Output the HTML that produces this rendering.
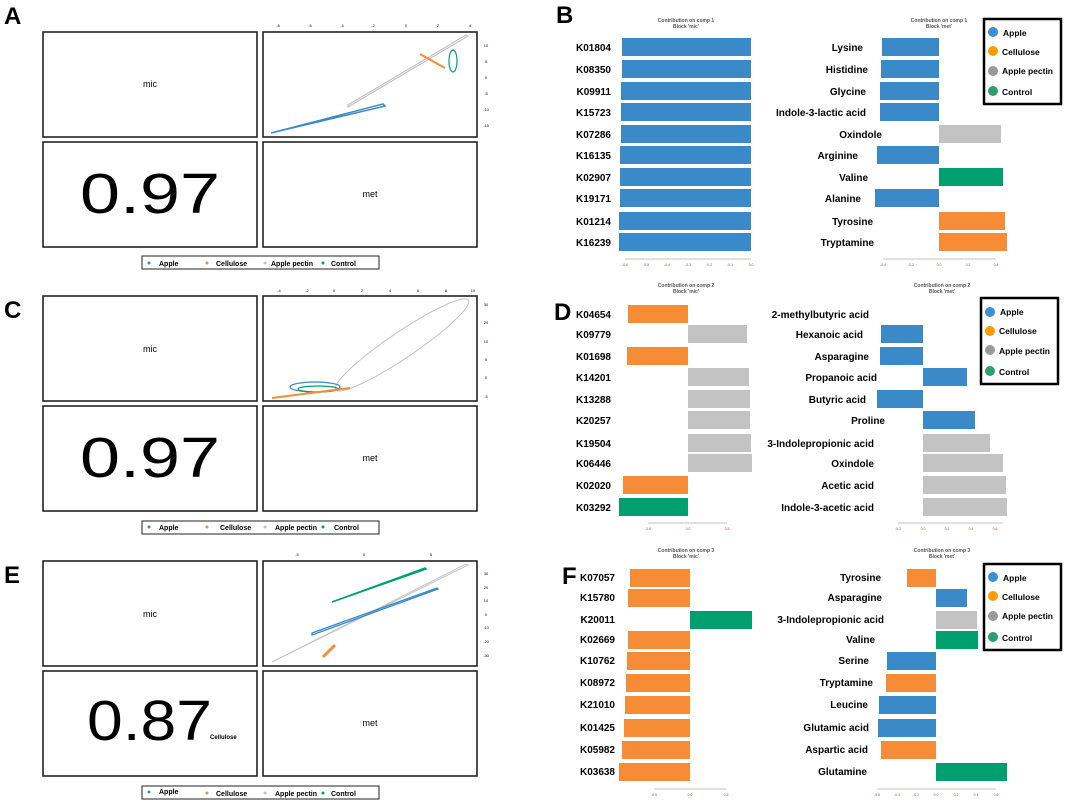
<!DOCTYPE html>
<html><head><meta charset="utf-8"><style>
html,body{margin:0;padding:0;background:#fff}
svg{display:block;font-family:"Liberation Sans",Arial,sans-serif}
.pl{font-weight:bold;font-size:24px}
.bl{font-weight:bold;font-size:10px;text-anchor:end}
.tt{font-size:5px;fill:#555;text-anchor:middle;font-weight:bold}
.ax{font-size:3.5px;fill:#a0522d;text-anchor:middle}
.lg{font-weight:bold;font-size:8.5px}
.sl{font-weight:bold;font-size:7px}
.tk{font-size:4px;text-anchor:middle}
.box{fill:none;stroke:#222;stroke-width:1.6}
</style></head><body>
<svg width="1080" height="801" viewBox="0 0 1080 801">
<g id="A">
<text x="4" y="24" class="pl">A</text>
<rect x="43" y="32" width="214" height="105" class="box"/>
<rect x="263" y="32" width="214" height="105" class="box"/>
<rect x="43" y="142" width="214" height="105" class="box"/>
<rect x="263" y="142" width="214" height="105" class="box"/>
<text x="150" y="87" font-size="9" text-anchor="middle">mic</text>
<text x="370" y="197" font-size="9" text-anchor="middle">met</text>
<text x="80" y="213" font-size="57" textLength="140" lengthAdjust="spacingAndGlyphs">0.97</text>
<g class="tk"><text x="278" y="27">-8</text><text x="310" y="27">-6</text><text x="342" y="27">-4</text><text x="373" y="27">-2</text><text x="406" y="27">0</text><text x="438" y="27">2</text><text x="470" y="27">4</text>
<text x="486" y="47">10</text><text x="486" y="63">5</text><text x="486" y="79">0</text><text x="486" y="95">-5</text><text x="486" y="111">-10</text><text x="486" y="127">-15</text></g>
<path d="M271,133 L385,106 L383,104 Z" fill="none" stroke="#3a89c9" stroke-width="1.5"/>
<path d="M348,107 L468,36 L466,35 L348,105Z" fill="none" stroke="#c3c3c3" stroke-width="1.2"/>
<line x1="420" y1="54" x2="445" y2="68" stroke="#f68d36" stroke-width="2"/>
<ellipse cx="453" cy="61" rx="4" ry="11" fill="none" stroke="#00a06e" stroke-width="1.2"/>
<rect x="142" y="256" width="237" height="13" fill="none" stroke="#222" stroke-width="1"/>
<g class="sl"><circle cx="149" cy="263" r="1.5" fill="#3a89c9"/><text x="159" y="266">Apple</text>
<circle cx="207" cy="263" r="1.5" fill="#f68d36"/><text x="216" y="266">Cellulose</text>
<circle cx="265" cy="263" r="1.5" fill="#c3c3c3"/><text x="271" y="266">Apple pectin</text>
<circle cx="323" cy="263" r="1.5" fill="#00a06e"/><text x="331" y="266">Control</text></g>
</g>

<g id="C">
<text x="4" y="318" class="pl">C</text>
<rect x="43" y="296" width="214" height="105" class="box"/>
<rect x="263" y="296" width="214" height="105" class="box"/>
<rect x="43" y="406" width="214" height="105" class="box"/>
<rect x="263" y="406" width="214" height="105" class="box"/>
<text x="150" y="352" font-size="9" text-anchor="middle">mic</text>
<text x="370" y="461" font-size="9" text-anchor="middle">met</text>
<text x="80" y="477" font-size="57" textLength="140" lengthAdjust="spacingAndGlyphs">0.97</text>
<g class="tk"><text x="279" y="292">-4</text><text x="307" y="292">-2</text><text x="334" y="292">0</text><text x="362" y="292">2</text><text x="390" y="292">4</text><text x="418" y="292">6</text><text x="446" y="292">8</text><text x="473" y="292">10</text>
<text x="486" y="306">30</text><text x="486" y="324">20</text><text x="486" y="343">10</text><text x="486" y="361">5</text><text x="486" y="379">0</text><text x="486" y="398">-5</text></g>
<ellipse cx="402" cy="345" rx="80" ry="13" transform="rotate(-34 402 345)" fill="none" stroke="#c3c3c3" stroke-width="1"/>
<ellipse cx="315" cy="387" rx="25" ry="5" fill="none" stroke="#3a89c9" stroke-width="1.2"/>
<ellipse cx="318" cy="389" rx="20" ry="3" fill="none" stroke="#00a06e" stroke-width="1.2"/>
<line x1="272" y1="398" x2="350" y2="388" stroke="#f68d36" stroke-width="2"/>
<rect x="142" y="521" width="237" height="13" fill="none" stroke="#222" stroke-width="1"/>
<g class="sl"><circle cx="149" cy="527" r="1.5" fill="#3a89c9"/><text x="159" y="530">Apple</text>
<circle cx="207" cy="527" r="1.5" fill="#f68d36"/><text x="220" y="530">Cellulose</text>
<circle cx="265" cy="527" r="1.5" fill="#c3c3c3"/><text x="275" y="530">Apple pectin</text>
<circle cx="323" cy="527" r="1.5" fill="#00a06e"/><text x="334" y="530">Control</text></g>
</g>

<g id="E">
<text x="4" y="583" class="pl">E</text>
<rect x="43" y="561" width="214" height="105" class="box"/>
<rect x="263" y="561" width="214" height="105" class="box"/>
<rect x="43" y="671" width="214" height="105" class="box"/>
<rect x="263" y="671" width="214" height="105" class="box"/>
<text x="150" y="617" font-size="9" text-anchor="middle">mic</text>
<text x="370" y="726" font-size="9" text-anchor="middle">met</text>
<text x="87" y="740" font-size="57" textLength="125" lengthAdjust="spacingAndGlyphs">0.87</text>
<text x="210" y="739" font-size="6" font-weight="bold">Cellulose</text>
<g class="tk"><text x="297" y="556">-5</text><text x="364" y="556">0</text><text x="431" y="556">5</text>
<text x="486" y="575">30</text><text x="486" y="589">20</text><text x="486" y="602">10</text><text x="486" y="616">0</text><text x="486" y="629">-10</text><text x="486" y="643">-20</text><text x="486" y="657">-30</text></g>
<path d="M332,602 L426,569 L425,568 Z" fill="none" stroke="#00a06e" stroke-width="1.5"/>
<path d="M272,662 L468,565 L466,564 Z" fill="none" stroke="#c3c3c3" stroke-width="1"/>
<path d="M312,635 L438,589 L437,588 L312,633 Z" fill="none" stroke="#3a89c9" stroke-width="1.3"/>
<line x1="323" y1="657" x2="335" y2="645" stroke="#f68d36" stroke-width="3"/>
<rect x="142" y="786" width="237" height="13" fill="none" stroke="#222" stroke-width="1"/>
<g class="sl"><circle cx="149" cy="792" r="1.5" fill="#3a89c9"/><text x="159" y="794">Apple</text>
<circle cx="207" cy="793" r="1.5" fill="#f68d36"/><text x="216" y="796">Cellulose</text>
<circle cx="265" cy="793" r="1.5" fill="#c3c3c3"/><text x="275" y="796">Apple pectin</text>
<circle cx="323" cy="793" r="1.5" fill="#00a06e"/><text x="331" y="796">Control</text></g>
</g>

<g id="B">
<text x="556" y="23" class="pl">B</text>
<text x="686" y="22" class="tt">Contribution on comp 1</text><text x="686" y="28" class="tt">Block 'mic'</text>
<text x="939" y="22" class="tt">Contribution on comp 1</text><text x="939" y="28" class="tt">Block 'met'</text>
<g fill="#3a89c9">
<rect x="622" y="38" width="129" height="18"/><rect x="622" y="60" width="129" height="18"/><rect x="621" y="82" width="130" height="18"/><rect x="621" y="103" width="130" height="18"/><rect x="621" y="125" width="130" height="18"/><rect x="620" y="146" width="131" height="18"/><rect x="620" y="168" width="131" height="18"/><rect x="620" y="189" width="131" height="18"/><rect x="619" y="212" width="132" height="18"/><rect x="619" y="233" width="132" height="18"/>
</g>
<g class="bl"><text x="611" y="51">K01804</text><text x="611" y="73">K08350</text><text x="611" y="95">K09911</text><text x="611" y="116">K15723</text><text x="611" y="138">K07286</text><text x="611" y="159">K16135</text><text x="611" y="181">K02907</text><text x="611" y="202">K19171</text><text x="611" y="225">K01214</text><text x="611" y="246">K16239</text></g>
<line x1="625" y1="259" x2="751" y2="259" stroke="#888" stroke-width="0.6"/>
<g class="ax"><text x="625" y="266">-0.6</text><text x="646" y="266">-0.5</text><text x="667" y="266">-0.4</text><text x="688" y="266">-0.3</text><text x="709" y="266">-0.2</text><text x="730" y="266">-0.1</text><text x="751" y="266">0.0</text></g>
<rect x="882" y="38" width="57" height="18" fill="#3a89c9"/>
<rect x="881" y="60" width="58" height="18" fill="#3a89c9"/>
<rect x="880" y="82" width="59" height="18" fill="#3a89c9"/>
<rect x="880" y="103" width="59" height="18" fill="#3a89c9"/>
<rect x="939" y="125" width="62" height="18" fill="#c3c3c3"/>
<rect x="877" y="146" width="62" height="18" fill="#3a89c9"/>
<rect x="939" y="168" width="64" height="18" fill="#00a06e"/>
<rect x="875" y="189" width="64" height="18" fill="#3a89c9"/>
<rect x="939" y="212" width="66" height="18" fill="#f68d36"/>
<rect x="939" y="233" width="68" height="18" fill="#f68d36"/>
<g class="bl"><text x="863" y="51">Lysine</text><text x="868" y="73">Histidine</text><text x="866" y="95">Glycine</text><text x="866" y="116">Indole-3-lactic acid</text><text x="882" y="138">Oxindole</text><text x="858" y="159">Arginine</text><text x="868" y="181">Valine</text><text x="861" y="202">Alanine</text><text x="873" y="225">Tyrosine</text><text x="874" y="246">Tryptamine</text></g>
<line x1="883" y1="259" x2="996" y2="259" stroke="#888" stroke-width="0.6"/>
<g class="ax"><text x="883" y="266">-0.4</text><text x="911" y="266">-0.2</text><text x="939" y="266">0.0</text><text x="968" y="266">0.2</text><text x="996" y="266">0.4</text></g>
<rect x="984" y="19" width="77" height="85" fill="#fff" stroke="#000" stroke-width="2.5"/>
<circle cx="993" cy="32" r="5" fill="#3a8fd6"/><text x="1003" y="36" class="lg">Apple</text>
<circle cx="993" cy="51" r="5" fill="#ff9a00"/><text x="1002" y="55" class="lg">Cellulose</text>
<circle cx="993" cy="71" r="5" fill="#999"/><text x="1002" y="74" class="lg">Apple pectin</text>
<circle cx="993" cy="91" r="5" fill="#2e9e6e"/><text x="1002" y="95" class="lg">Control</text>
</g>

<g id="D">
<text x="554" y="320" class="pl">D</text>
<text x="686" y="287" class="tt">Contribution on comp 2</text><text x="686" y="293" class="tt">Block 'mic'</text>
<text x="942" y="287" class="tt">Contribution on comp 2</text><text x="942" y="293" class="tt">Block 'met'</text>
<rect x="628" y="305" width="60" height="18" fill="#f68d36"/>
<rect x="688" y="325" width="59" height="18" fill="#c3c3c3"/>
<rect x="627" y="347" width="61" height="18" fill="#f68d36"/>
<rect x="688" y="368" width="61" height="18" fill="#c3c3c3"/>
<rect x="688" y="390" width="62" height="18" fill="#c3c3c3"/>
<rect x="688" y="411" width="62" height="18" fill="#c3c3c3"/>
<rect x="688" y="434" width="63" height="18" fill="#c3c3c3"/>
<rect x="688" y="454" width="64" height="18" fill="#c3c3c3"/>
<rect x="623" y="476" width="65" height="18" fill="#f68d36"/>
<rect x="619" y="498" width="69" height="18" fill="#00a06e"/>
<g class="bl"><text x="611" y="318">K04654</text><text x="611" y="338">K09779</text><text x="611" y="360">K01698</text><text x="611" y="381">K14201</text><text x="611" y="403">K13288</text><text x="611" y="424">K20257</text><text x="611" y="447">K19504</text><text x="611" y="467">K06446</text><text x="611" y="489">K02020</text><text x="611" y="511">K03292</text></g>
<line x1="648" y1="523" x2="727" y2="523" stroke="#888" stroke-width="0.6"/>
<g class="ax"><text x="648" y="530">-0.5</text><text x="688" y="530">0.0</text><text x="727" y="530">0.5</text></g>
<rect x="881" y="325" width="42" height="18" fill="#3a89c9"/>
<rect x="880" y="347" width="43" height="18" fill="#3a89c9"/>
<rect x="923" y="368" width="44" height="18" fill="#3a89c9"/>
<rect x="877" y="390" width="46" height="18" fill="#3a89c9"/>
<rect x="923" y="411" width="52" height="18" fill="#3a89c9"/>
<rect x="923" y="434" width="67" height="18" fill="#c3c3c3"/>
<rect x="923" y="454" width="80" height="18" fill="#c3c3c3"/>
<rect x="923" y="476" width="83" height="18" fill="#c3c3c3"/>
<rect x="923" y="498" width="84" height="18" fill="#c3c3c3"/>
<g class="bl"><text x="869" y="318">2-methylbutyric acid</text><text x="863" y="338">Hexanoic acid</text><text x="869" y="360">Asparagine</text><text x="877" y="381">Propanoic acid</text><text x="866" y="403">Butyric acid</text><text x="885" y="424">Proline</text><text x="874" y="447">3-Indolepropionic acid</text><text x="874" y="467">Oxindole</text><text x="874" y="489">Acetic acid</text><text x="874" y="511">Indole-3-acetic acid</text></g>
<line x1="898" y1="523" x2="1003" y2="523" stroke="#888" stroke-width="0.6"/>
<g class="ax"><text x="898" y="530">-0.2</text><text x="923" y="530">0.0</text><text x="947" y="530">0.2</text><text x="971" y="530">0.4</text><text x="995" y="530">0.6</text></g>
<rect x="981" y="298" width="77" height="86" fill="#fff" stroke="#000" stroke-width="2.5"/>
<circle cx="990" cy="312" r="5" fill="#3a8fd6"/><text x="1000" y="315" class="lg">Apple</text>
<circle cx="990" cy="331" r="5" fill="#ff9a00"/><text x="999" y="334" class="lg">Cellulose</text>
<circle cx="990" cy="350" r="5" fill="#999"/><text x="999" y="354" class="lg">Apple pectin</text>
<circle cx="990" cy="371" r="5" fill="#2e9e6e"/><text x="999" y="375" class="lg">Control</text>
</g>

<g id="F">
<text x="562" y="584" class="pl">F</text>
<text x="686" y="552" class="tt">Contribution on comp 3</text><text x="686" y="558" class="tt">Block 'mic'</text>
<text x="942" y="552" class="tt">Contribution on comp 3</text><text x="942" y="558" class="tt">Block 'met'</text>
<g fill="#f68d36">
<rect x="630" y="569" width="60" height="18"/><rect x="628" y="589" width="62" height="18"/><rect x="628" y="631" width="62" height="18"/><rect x="627" y="652" width="63" height="18"/><rect x="626" y="674" width="64" height="18"/><rect x="625" y="696" width="65" height="18"/><rect x="624" y="719" width="66" height="18"/><rect x="622" y="741" width="68" height="18"/><rect x="619" y="763" width="71" height="18"/>
</g>
<rect x="690" y="611" width="62" height="18" fill="#00a06e"/>
<g class="bl"><text x="615" y="581">K07057</text><text x="615" y="601">K15780</text><text x="615" y="623">K20011</text><text x="615" y="643">K02669</text><text x="615" y="664">K10762</text><text x="615" y="686">K08972</text><text x="615" y="708">K21010</text><text x="615" y="731">K01425</text><text x="615" y="753">K05982</text><text x="615" y="775">K03638</text></g>
<line x1="654" y1="789" x2="726" y2="789" stroke="#888" stroke-width="0.6"/>
<g class="ax"><text x="654" y="796">-0.5</text><text x="690" y="796">0.0</text><text x="726" y="796">0.5</text></g>
<rect x="907" y="569" width="29" height="18" fill="#f68d36"/>
<rect x="936" y="589" width="31" height="18" fill="#3a89c9"/>
<rect x="936" y="611" width="41" height="18" fill="#c3c3c3"/>
<rect x="936" y="631" width="42" height="18" fill="#00a06e"/>
<rect x="887" y="652" width="49" height="18" fill="#3a89c9"/>
<rect x="886" y="674" width="50" height="18" fill="#f68d36"/>
<rect x="879" y="696" width="57" height="18" fill="#3a89c9"/>
<rect x="878" y="719" width="58" height="18" fill="#3a89c9"/>
<rect x="881" y="741" width="55" height="18" fill="#f68d36"/>
<rect x="936" y="763" width="71" height="18" fill="#00a06e"/>
<g class="bl"><text x="881" y="581">Tyrosine</text><text x="882" y="601">Asparagine</text><text x="884" y="623">3-Indolepropionic acid</text><text x="875" y="643">Valine</text><text x="869" y="664">Serine</text><text x="873" y="686">Tryptamine</text><text x="868" y="708">Leucine</text><text x="869" y="731">Glutamic acid</text><text x="868" y="753">Aspartic acid</text><text x="867" y="775">Glutamine</text></g>
<line x1="877" y1="789" x2="996" y2="789" stroke="#888" stroke-width="0.6"/>
<g class="ax"><text x="877" y="796">-0.6</text><text x="897" y="796">-0.4</text><text x="916" y="796">-0.2</text><text x="936" y="796">0.0</text><text x="956" y="796">0.2</text><text x="976" y="796">0.4</text><text x="996" y="796">0.6</text></g>
<rect x="984" y="564" width="77" height="86" fill="#fff" stroke="#000" stroke-width="2.5"/>
<circle cx="993" cy="577" r="5" fill="#3a8fd6"/><text x="1003" y="581" class="lg">Apple</text>
<circle cx="993" cy="596" r="5" fill="#ff9a00"/><text x="1002" y="600" class="lg">Cellulose</text>
<circle cx="993" cy="616" r="5" fill="#999"/><text x="1002" y="619" class="lg">Apple pectin</text>
<circle cx="993" cy="637" r="5" fill="#2e9e6e"/><text x="1002" y="641" class="lg">Control</text>
</g>
</svg>
</body></html>
